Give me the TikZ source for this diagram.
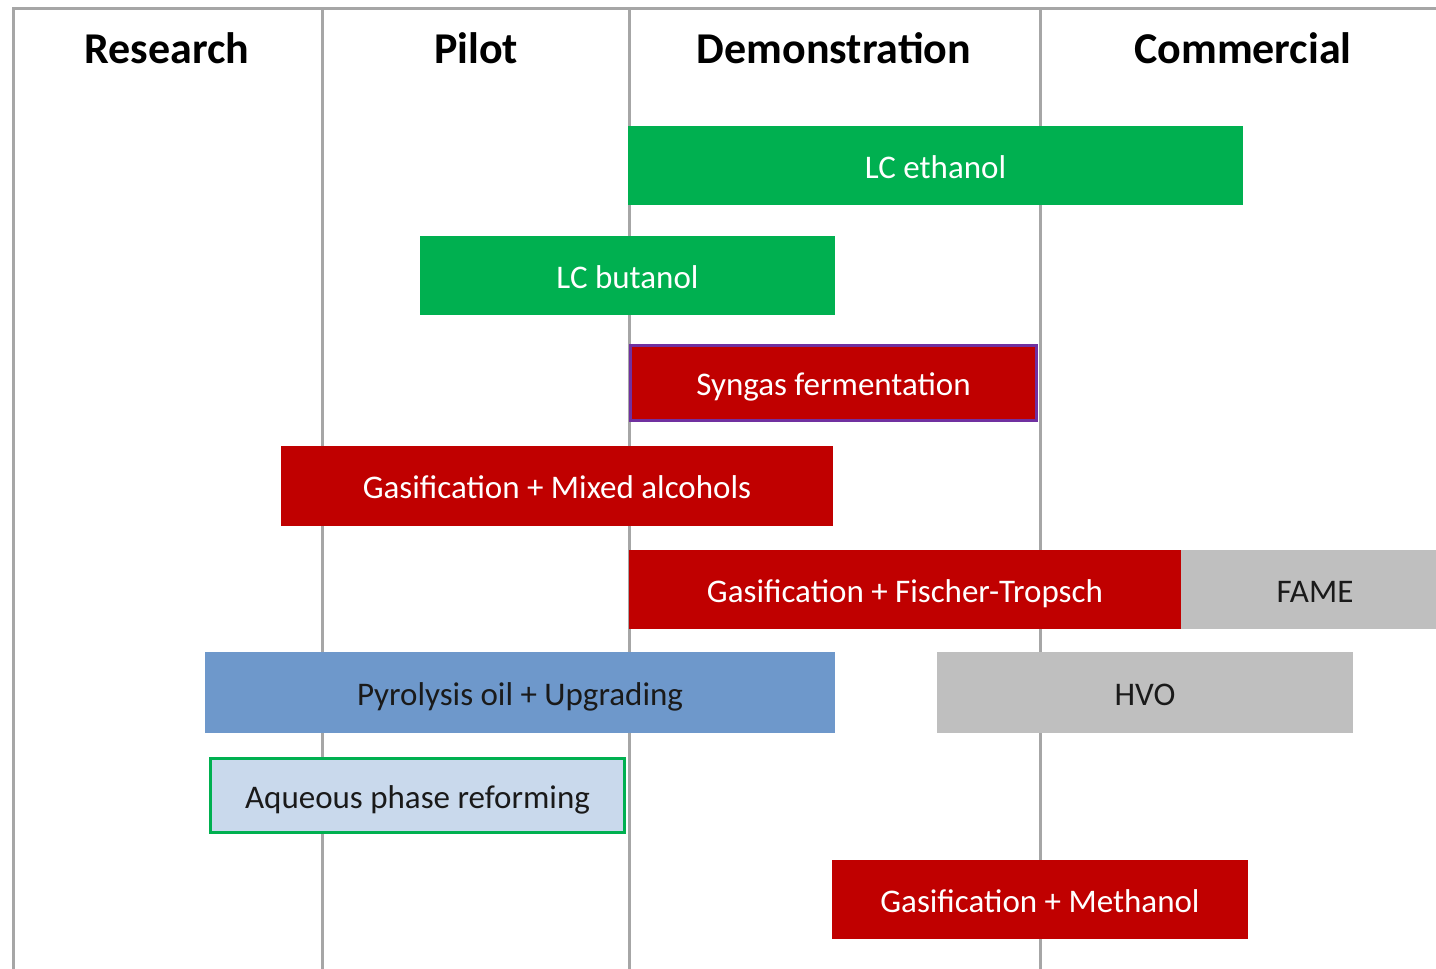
\documentclass[tikz,border=0pt]{standalone}
\usepackage{fontspec}
\setmainfont{Carlito}
\definecolor{gridgray}{HTML}{A6A6A6}
\definecolor{bargreen}{HTML}{00B050}
\definecolor{barred}{HTML}{C00000}
\definecolor{bargray}{HTML}{BFBFBF}
\definecolor{barblue}{HTML}{6E98CB}
\definecolor{barlight}{HTML}{C9D9EC}
\definecolor{barpurple}{HTML}{7030A0}
\definecolor{textdark}{HTML}{1A1A1A}
\begin{document}
\begin{tikzpicture}[x=0.5pt,y=-0.5pt,
  gridline/.style={draw=gridgray,line width=1.5pt},
  head/.style={font=\fontsize{22}{26}\selectfont\bfseries,text=black,anchor=center,inner sep=0pt},
  bar/.style={inner sep=0pt,outer sep=0pt,font=\fontsize{16.5}{20}\selectfont,anchor=center,text depth=0pt,text height=12.5pt},
  greenbar/.style={bar,fill=bargreen,text=white},
  redbar/.style={bar,fill=barred,text=white},
  graybar/.style={bar,fill=bargray,text=textdark},
  bluebar/.style={bar,fill=barblue,text=textdark},
  lightbar/.style={bar,fill=barlight,text=textdark,draw=bargreen,line width=1.5pt},
]
\clip (0,0) rectangle (1436,969);
% frame and column lines
\coordinate (tl) at (13,8);
\coordinate (tr) at (1440,8);
\coordinate (bl) at (13,975);
\draw[gridline] (tr) -- (tl) -- (bl);
\coordinate (c1t) at (322,8);  \coordinate (c1b) at (322,975);
\coordinate (c2t) at (629,8);  \coordinate (c2b) at (629,975);
\coordinate (c3t) at (1040,8); \coordinate (c3b) at (1040,975);
\draw[gridline] (c1t) -- (c1b);
\draw[gridline] (c2t) -- (c2b);
\draw[gridline] (c3t) -- (c3b);
% headings
\node[head] (research) at (167,48) {Research};
\node[head] (pilot) at (476,48) {Pilot};
\node[head] (demo) at (834,48) {Demonstration};
\node[head] (commercial) at (1243,48) {Commercial};
% bars
\node[greenbar,minimum width=307.5pt,minimum height=39.5pt] (ethanol) at (935.5,165.5) {LC ethanol};
\node[greenbar,minimum width=207.5pt,minimum height=39.5pt] (butanol) at (627.5,275.5) {LC butanol};
\node[redbar,draw=barpurple,line width=1.5pt,minimum width=203pt,minimum height=37.5pt] (syngas) at (833.5,383) {Syngas fermentation};
\node[redbar,minimum width=276pt,minimum height=40pt] (mixed) at (557,486) {Gasification + Mixed alcohols};
\node[redbar,minimum width=276pt,minimum height=39.5pt] (ft) at (905,589.5) {Gasification + Fischer-Tropsch};
\node[graybar,minimum width=134pt,minimum height=39.5pt] (fame) at (1315,589.5) {FAME};
\node[bluebar,minimum width=315pt,minimum height=40.5pt] (pyro) at (520,692.5) {Pyrolysis oil + Upgrading};
\node[graybar,minimum width=208pt,minimum height=40.5pt] (hvo) at (1145,692.5) {HVO};
\node[lightbar,minimum width=207pt,minimum height=37pt] (aqueous) at (417.5,795.5) {Aqueous phase reforming};
\node[redbar,minimum width=208pt,minimum height=39.5pt] (methanol) at (1040,899.5) {Gasification + Methanol};
\end{tikzpicture}
\end{document}
